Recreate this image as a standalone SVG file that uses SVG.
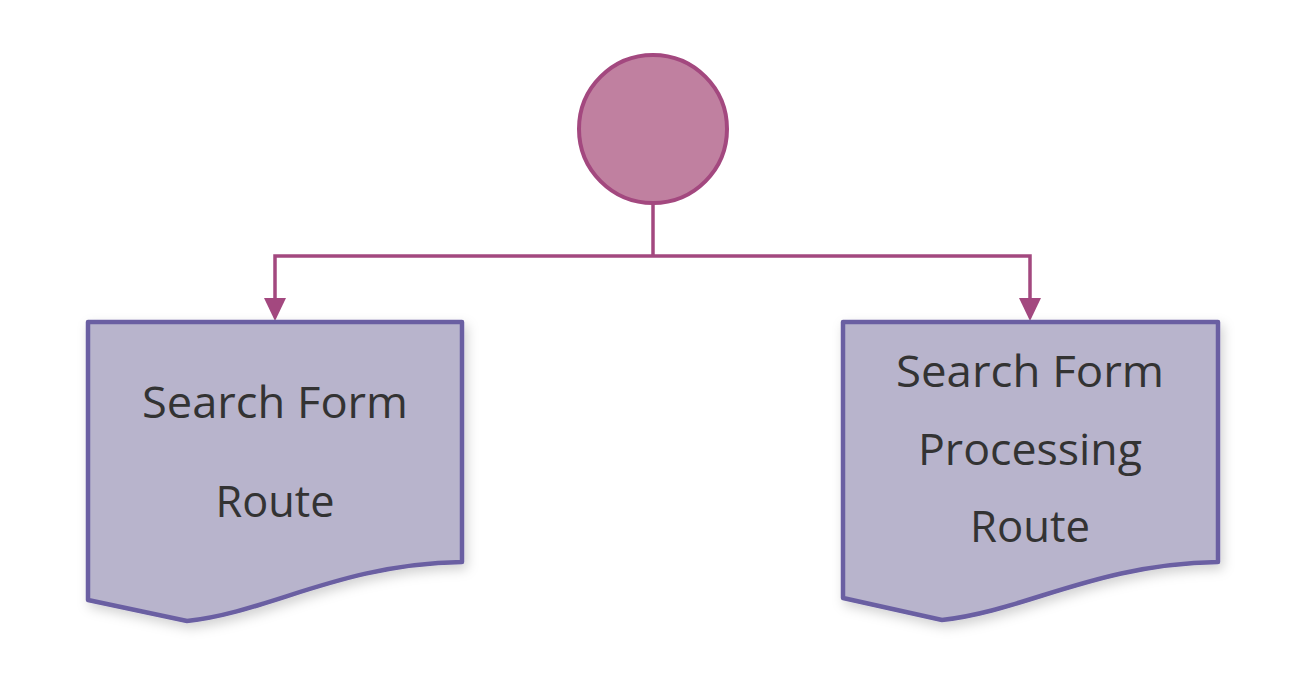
<svg xmlns="http://www.w3.org/2000/svg" width="1304" height="688" viewBox="0 0 1304 688">
<style>
.doc{fill:#b8b4cc;stroke:#6a5fa2;stroke-width:4.5;stroke-linejoin:round;filter:url(#sh)}
.lbl{font-family:"Open Sans","Liberation Sans",sans-serif;font-size:44px;fill:#333333;text-anchor:middle}
.conn{fill:none;stroke:#a3487f;stroke-width:3.5}
</style>
<defs>
<filter id="sh" x="-10%" y="-10%" width="125%" height="125%">
<feDropShadow dx="3" dy="5" stdDeviation="6" flood-color="#000" flood-opacity="0.18"/>
</filter>
</defs>
<g id="connectors">
<path class="conn" d="M653,204 V256"/>
<path class="conn" d="M653,256 H275 V298"/>
<path class="conn" d="M653,256 H1030 V298"/>
<path d="M264,298 L286,298 L275,321 Z" fill="#a3487f"/>
<path d="M1019,298 L1041,298 L1030,321 Z" fill="#a3487f"/>
</g>
<g id="start">
<circle cx="653" cy="129" r="74" fill="#c080a0" stroke="#a3487f" stroke-width="4"/>
</g>
<g id="search-form-route">
<path class="doc" d="M88,322 H462 V562 C340,564 270,612 187,621 L88,600 Z"/>
<text class="lbl" x="275" y="418" textLength="266" lengthAdjust="spacingAndGlyphs">Search Form</text>
<text class="lbl" x="275" y="517" textLength="119" lengthAdjust="spacingAndGlyphs">Route</text>
</g>
<g id="search-form-processing-route">
<path class="doc" d="M843,322 H1218 V562 C1096,564 1025,611 942,620 L843,598 Z"/>
<text class="lbl" x="1030" y="387" textLength="268" lengthAdjust="spacingAndGlyphs">Search Form</text>
<text class="lbl" x="1030" y="465" textLength="224" lengthAdjust="spacingAndGlyphs">Processing</text>
<text class="lbl" x="1030" y="542" textLength="120" lengthAdjust="spacingAndGlyphs">Route</text>
</g>
</svg>
